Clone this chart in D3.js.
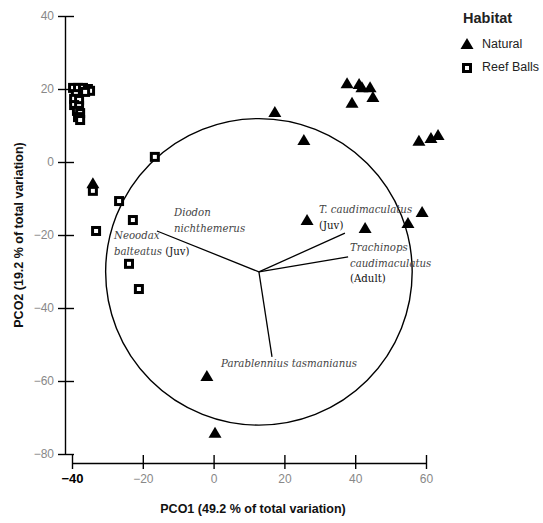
<!DOCTYPE html>
<html>
<head>
<meta charset="utf-8">
<script src="https://cdn.jsdelivr.net/npm/d3@7"></script>
<style>
  body { margin: 0; background: #fff; }
  svg { font-family: "Liberation Sans", Arial, sans-serif; }
</style>
</head>
<body>
<svg id="chart"></svg>
<script>
// Natural sites (PCO1, PCO2)
const naturalX = [37.7, 41.1, 41.9, 44.2, 39.1, 45.0, 58.0, 61.4, 63.4, 25.5, 17.3, 26.4, 42.8, 54.9, 58.9, -34.1, -1.9, 0.4];
const naturalY = [21.6, 21.4, 20.5, 20.5, 16.2, 17.8, 5.8, 6.6, 7.4, 6.0, 13.7, -15.9, -18.1, -16.7, -13.7, -5.8, -58.6, -74.2];

// Reef Ball sites (PCO1, PCO2)
const reefX = [-39.7, -38.3, -36.9, -35.5, -34.9, -36.3, -38.9, -39.4, -38.0, -39.4, -38.0, -38.6, -37.7, -38.3, -37.7,
  -34.1, -16.6, -26.7, -22.8, -33.2, -23.9, -21.1];
const reefY = [20.3, 20.3, 20.3, 20.0, 19.5, 19.2, 18.6, 17.3, 17.0, 15.6, 15.3, 14.0, 13.4, 12.3, 11.5,
  -7.9, 1.4, -10.7, -15.9, -18.9, -27.9, -34.8];

// species vectors (origin + end points)
const vecOrigin = [12.8, -30.1];
const vecNames = ['Neoodax', 'T. caud Juv', 'Trachinops Adult', 'Parablennius'];
const vecEndX = [-16.0, 37.1, 38.0, 16.5];
const vecEndY = [-18.9, -19.5, -26.0, -53.4];
const circleRadius = 43.3; // in PCO1 units

const xTicks = [-40, -20, 0, 20, 40, 60];
const yTicks = [-80, -60, -40, -20, 0, 20, 40];

const width = 543, height = 523;
const svg = d3.select('#chart').attr('width', width).attr('height', height);

const x = d3.scaleLinear().domain([-40, 60]).range([72, 426]);
const y = d3.scaleLinear().domain([-80, 40]).range([454, 16]);

// Y axis
const yAxis = svg.append('g')
  .attr('transform', 'translate(65,0)')
  .call(d3.axisLeft(y).tickValues(yTicks).tickSizeInner(0).tickSizeOuter(0).tickPadding(11));
yAxis.select('.domain').attr('stroke', '#000').attr('stroke-width', 1.4);
yAxis.selectAll('.tick').append('line').attr('x1', -7).attr('x2', 9).attr('stroke', '#000').attr('stroke-width', 1.4);
yAxis.selectAll('.tick text').attr('fill', '#888').attr('font-size', 12).attr('font-family', '"Liberation Sans", Arial, sans-serif');

// X axis
const xAxis = svg.append('g')
  .attr('transform', 'translate(0,463)')
  .call(d3.axisBottom(x).tickValues(xTicks).tickSizeInner(0).tickSizeOuter(0).tickPadding(11));
xAxis.select('.domain').attr('stroke', '#000').attr('stroke-width', 1.4);
xAxis.selectAll('.tick').append('line').attr('y1', -8).attr('y2', 6).attr('stroke', '#000').attr('stroke-width', 1.4);
xAxis.selectAll('.tick text').attr('fill', '#888').attr('font-size', 12).attr('font-family', '"Liberation Sans", Arial, sans-serif')
  .filter(d => d === -40).attr('fill', '#000').attr('font-weight', 'bold').attr('font-size', 13);

// Axis titles
svg.append('text')
  .attr('x', 253).attr('y', 513)
  .attr('text-anchor', 'middle')
  .attr('font-size', 12.5).attr('font-weight', 'bold').attr('fill', '#111')
  .text('PCO1 (49.2 % of total variation)');

svg.append('text')
  .attr('transform', 'translate(23,235) rotate(-90)')
  .attr('text-anchor', 'middle')
  .attr('font-size', 12.5).attr('font-weight', 'bold').attr('fill', '#111')
  .text('PCO2 (19.2 % of total variation)');

// Correlation circle
const cx = x(vecOrigin[0]), cy = y(vecOrigin[1]);
svg.append('circle')
  .attr('cx', cx).attr('cy', cy)
  .attr('r', x(circleRadius) - x(0))
  .attr('fill', 'none').attr('stroke', '#000').attr('stroke-width', 1.4);

// Vectors
svg.selectAll('.vec')
  .data(vecNames)
  .enter()
  .append('line')
  .attr('class', 'vec')
  .attr('x1', cx).attr('y1', cy)
  .attr('x2', (d, i) => x(vecEndX[i]))
  .attr('y2', (d, i) => y(vecEndY[i]))
  .attr('stroke', '#000').attr('stroke-width', 1.3);

// Vector labels
const serif = '"DejaVu Serif", serif';
function label(px, py, lines) {
  const t = svg.append('text')
    .attr('font-family', serif).attr('font-size', 10.2).attr('fill', '#444');
  lines.forEach((ln, i) => {
    const ts = t.append('tspan').attr('x', px).attr('y', py + i * 15.5);
    ln.forEach(part => {
      ts.append('tspan')
        .attr('font-style', part.italic ? 'italic' : 'normal')
        .attr('fill', part.italic ? '#444' : '#111')
        .text(part.t);
    });
  });
}
label(174, 216, [[{ t: 'Diodon', italic: true }], [{ t: 'nichthemerus', italic: true }]]);
label(114, 239, [[{ t: 'Neoodax', italic: true }], [{ t: 'balteatus ', italic: true }, { t: '(Juv)' }]]);
label(319, 213, [[{ t: 'T. caudimaculatus', italic: true }], [{ t: '(Juv)' }]]);
label(350, 251, [[{ t: 'Trachinops', italic: true }], [{ t: 'caudimaculatus', italic: true }], [{ t: '(Adult)' }]]);
label(221, 367, [[{ t: 'Parablennius tasmanianus', italic: true }]]);

// Markers
const triPath = 'M0,-6L6.5,5L-6.5,5Z';
svg.selectAll('.reef')
  .data(reefX)
  .enter()
  .append('rect')
  .attr('class', 'reef')
  .attr('x', (d) => x(d) - 3.5)
  .attr('y', (d, i) => y(reefY[i]) - 3.5)
  .attr('width', 7).attr('height', 7)
  .attr('fill', '#fff').attr('stroke', '#000').attr('stroke-width', 3);

svg.selectAll('.natural')
  .data(naturalX)
  .enter()
  .append('path')
  .attr('class', 'natural')
  .attr('d', triPath)
  .attr('transform', (d, i) => `translate(${x(d)},${y(naturalY[i])})`)
  .attr('fill', '#000');

// Legend
const legend = svg.append('g');
legend.append('text').attr('x', 463).attr('y', 23)
  .attr('font-size', 14.5).attr('font-weight', 'bold').attr('fill', '#222').text('Habitat');
legend.append('path').attr('d', triPath).attr('transform', 'translate(467,44)').attr('fill', '#000');
legend.append('text').attr('x', 482).attr('y', 48).attr('font-size', 12.5).attr('fill', '#222').text('Natural');
legend.append('rect').attr('x', 463.5).attr('y', 64.5).attr('width', 7).attr('height', 7)
  .attr('fill', '#fff').attr('stroke', '#000').attr('stroke-width', 3);
legend.append('text').attr('x', 482).attr('y', 71).attr('font-size', 12.5).attr('fill', '#222').text('Reef Balls');
</script>
</body>
</html>
